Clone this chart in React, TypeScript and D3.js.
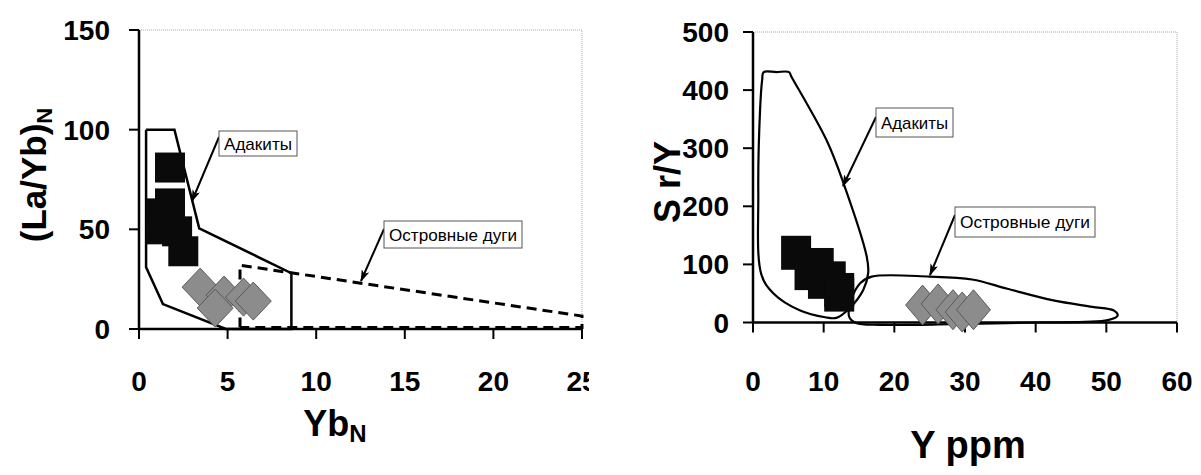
import React from 'react'
import * as d3 from 'd3'

// left diagram: (La/Yb)N vs YbN
const leftXTicks = [0, 5, 10, 15, 20, 25]
const leftYTicks = [0, 50, 100, 150]
const leftAdakite = [[0.4, 100], [2, 100], [3.4, 50.5], [8.6, 28], [8.6, 0], [4.9, 0], [1.35, 12.5], [0.4, 31], [0.4, 100]]
const leftArc = [[5.7, 0.8], [5.7, 32], [25, 6.5], [25, 0.8], [5.7, 0.8]]
const leftSquares = [[1.75, 81], [1.75, 63], [1.25, 58], [1.25, 50], [2.15, 49], [2.5, 39]]
const leftDiamonds = [[3.45, 21], [4.8, 17], [4.3, 10.5], [5.9, 16], [6.45, 14]]

// right diagram: Sr/Y vs Y ppm
const rightXTicks = [0, 10, 20, 30, 40, 50, 60]
const rightYTicks = [0, 100, 200, 300, 400, 500]
const rightAdakite = [[1.3, 418], [1.5, 431], [3.3, 431], [5.1, 431], [5.4, 424], [10.4, 314], [12.8, 240], [16.1, 113], [16.3, 85], [15.6, 56], [13.7, 25], [11.8, 8], [10.2, 9], [6.6, 21], [2.9, 50], [1.2, 82], [0.75, 222], [1.0, 366]]
const rightArc = [[13.6, 10], [14.0, 42], [15.2, 68], [16.8, 79], [25, 79], [31, 74], [36, 58], [42.5, 38], [48, 27], [51, 21], [51.6, 12], [50.2, 4], [40, 0], [28, -3], [18, -4], [14.6, -1]]
const rightSquares = [[6.1, 120], [9.3, 99], [8.0, 85], [11.0, 76], [9.9, 70], [12.2, 56], [12.2, 48]]
const rightDiamonds = [[24, 30], [26.2, 32], [28.3, 22], [29.6, 18], [31.2, 22]]

const bold = { fontFamily: 'Liberation Sans, Arial, sans-serif', fontWeight: 700 }
const plain = { fontFamily: 'Liberation Sans, Arial, sans-serif' }

const diamond = (cx: number, cy: number, hw: number, hh: number) =>
  `M${cx - hw},${cy}L${cx},${cy - hh}L${cx + hw},${cy}L${cx},${cy + hh}Z`

function Note ({ x, y, w, h, text, from, to }: any) {
  return (
    <g>
      <line x1={from[0]} y1={from[1]} x2={to[0]} y2={to[1]} stroke='#000' strokeWidth={2} markerEnd='url(#arr)' />
      <rect x={x} y={y} width={w} height={h} fill='#fff' stroke='#555' strokeWidth={1} />
      <text x={x + w / 2} y={y + h / 2 + 6} textAnchor='middle' fontSize={17} textLength={w - 10} lengthAdjust='spacingAndGlyphs' style={plain}>{text}</text>
    </g>
  )
}

function Frame ({ x, y, xTicks, yTicks }: any) {
  const [x0, x1] = x.range()
  const [y0, y1] = y.range()
  return (
    <g>
      <path d={`M${x0},${y1}H${x1}V${y0}`} fill='none' stroke='#aaa' strokeWidth={1} strokeDasharray='1 1' />
      <line x1={x0} y1={y0} x2={x1} y2={y0} stroke='#000' strokeWidth={2.5} />
      <line x1={x0} y1={y0} x2={x0} y2={y1} stroke='#000' strokeWidth={2.5} />
      {xTicks.map((t: number) => (
        <line key={'x' + t} x1={x(t)} x2={x(t)} y1={y0} y2={y0 + 10} stroke='#000' strokeWidth={2} />
      ))}
      {yTicks.map((t: number) => (
        <line key={'y' + t} x1={x0 - 10} x2={x0} y1={y(t)} y2={y(t)} stroke='#000' strokeWidth={2} />
      ))}
    </g>
  )
}

export default function App () {
  const lx = d3.scaleLinear().domain([0, 25]).range([139, 582])
  const ly = d3.scaleLinear().domain([0, 150]).range([329, 30])
  const rx = d3.scaleLinear().domain([0, 60]).range([753, 1177])
  const ry = d3.scaleLinear().domain([0, 500]).range([322.5, 32])

  const lLine = d3.line<number[]>().x(d => lx(d[0])).y(d => ly(d[1]))
  const rCurve = d3.line<number[]>().x(d => rx(d[0])).y(d => ry(d[1])).curve(d3.curveCatmullRomClosed.alpha(0.5))

  return (
    <svg width={1201} height={475} style={{ position: 'absolute', left: 0, top: 0, background: '#fff' }}>
      <defs>
        <marker id='arr' viewBox='0 0 12 8' refX='11' refY='4' markerWidth='12' markerHeight='8' markerUnits='userSpaceOnUse' orient='auto'>
          <path d='M0,0L12,4L0,8L3,4Z' fill='#000' />
        </marker>
        <clipPath id='leftClip'>
          <rect x={0} y={0} width={589} height={475} />
        </clipPath>
      </defs>

      {/* left chart */}
      <g clipPath='url(#leftClip)'>
        <Frame x={lx} y={ly} xTicks={leftXTicks} yTicks={leftYTicks} />
        {leftYTicks.map(t => (
          <text key={t} x={110} y={ly(t) + 10} textAnchor='end' fontSize={28} style={bold}>{t}</text>
        ))}
        {leftXTicks.map(t => (
          <text key={t} x={lx(t)} y={391} textAnchor='middle' fontSize={28} style={bold}>{t}</text>
        ))}
        <path d={lLine(leftAdakite) || ''} fill='none' stroke='#000' strokeWidth={2.5} strokeLinejoin='miter' />
        <path d={lLine(leftArc) || ''} fill='none' stroke='#000' strokeWidth={3} strokeDasharray='10 6' />
        {leftSquares.map((d, i) => (
          <rect key={i} x={lx(d[0]) - 15} y={ly(d[1]) - 15} width={30} height={30} fill='#0a0a0a' />
        ))}
        {leftDiamonds.map((d, i) => (
          <path key={i} d={diamond(lx(d[0]), ly(d[1]), 18, 19)} fill='#8c8c8c' stroke='#5a5a5a' strokeWidth={1} />
        ))}
        <Note x={219} y={131} w={78} h={25} text='Адакиты' from={[219, 137]} to={[192, 201]} />
        <Note x={384} y={221} w={138} h={27} text='Островные дуги' from={[384, 229]} to={[361, 281]} />
      </g>
      <text transform='translate(46,175) rotate(-90)' textAnchor='middle' fontSize={35} style={bold}>
        (La/Yb)<tspan fontSize={22} dy={6}>N</tspan>
      </text>
      <text x={335} y={436} textAnchor='middle' fontSize={36} style={bold}>
        Yb<tspan fontSize={24} dy={6}>N</tspan>
      </text>

      {/* right chart */}
      <Frame x={rx} y={ry} xTicks={rightXTicks} yTicks={rightYTicks} />
      {rightYTicks.map(t => (
        <text key={t} x={729} y={ry(t) + 10} textAnchor='end' fontSize={28} style={bold}>{t}</text>
      ))}
      {rightXTicks.map(t => (
        <text key={t} x={rx(t)} y={391} textAnchor='middle' fontSize={28} style={bold}>{t}</text>
      ))}
      <path d={rCurve(rightAdakite) || ''} fill='none' stroke='#000' strokeWidth={2.2} />
      <path d={rCurve(rightArc) || ''} fill='none' stroke='#000' strokeWidth={2.2} />
      {rightSquares.map((d, i) => (
        <rect key={i} x={rx(d[0]) - 15} y={ry(d[1]) - 17} width={30} height={34} fill='#0a0a0a' />
      ))}
      {rightDiamonds.map((d, i) => (
        <path key={i} d={diamond(rx(d[0]), ry(d[1]), 17, 20)} fill='#8c8c8c' stroke='#5a5a5a' strokeWidth={1} />
      ))}
      <Note x={876} y={108} w={77} h={29} text='Адакиты' from={[876, 117]} to={[843, 186]} />
      <Note x={955} y={207} w={140} h={30} text='Островные дуги' from={[955, 215]} to={[930, 275]} />
      <text transform='translate(680,182) rotate(-90)' textAnchor='middle' fontSize={36} style={bold}>S r/Y</text>
      <text x={968} y={458} textAnchor='middle' fontSize={38} style={bold}>Y ppm</text>
    </svg>
  )
}
